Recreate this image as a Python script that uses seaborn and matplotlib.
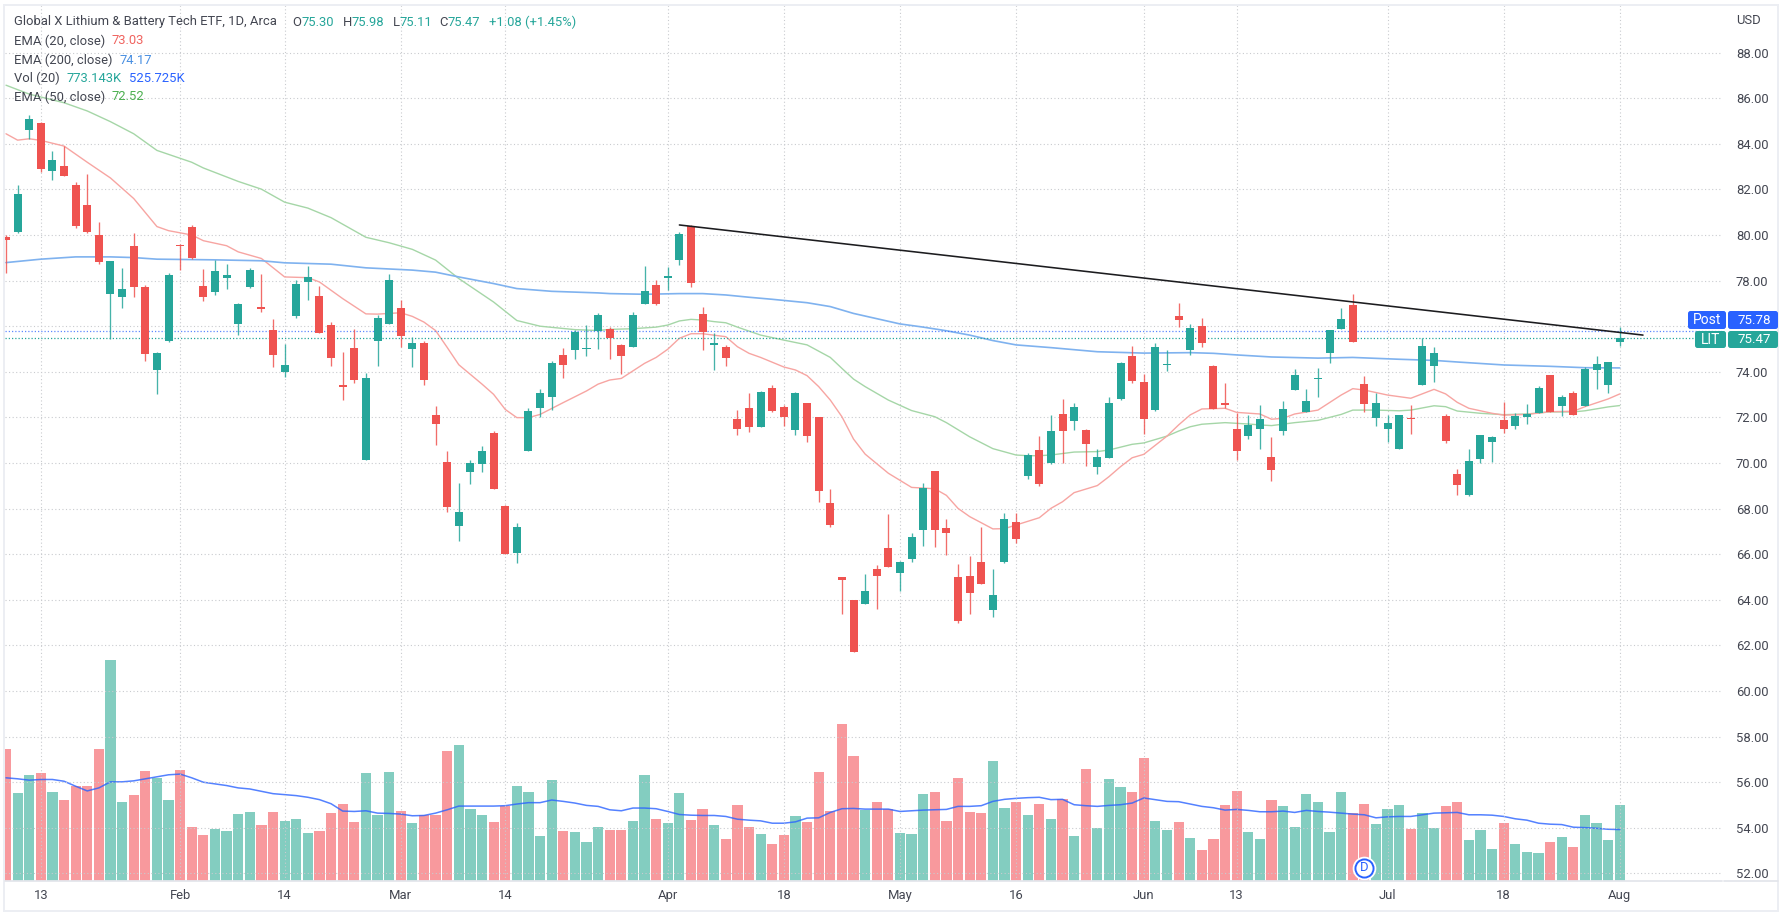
import matplotlib
matplotlib.use("Agg")
import matplotlib.pyplot as plt
from matplotlib.lines import Line2D
from matplotlib.patches import FancyBboxPatch, Rectangle
from matplotlib.transforms import IdentityTransform
import numpy as np
import pandas as pd
import seaborn as sns

# ---------- data ----------
opens = [79.9,80.15,84.6,84.91,82.79,83.01,82.19,81.31,80.0,77.41,77.26,79.51,77.74,74.07,75.34,79.57,80.34,77.78,77.5,78.13,
         76.1,77.71,76.85,75.84,74.01,76.43,77.94,77.34,76.07,73.41,75.06,70.14,75.37,76.1,76.81,74.99,75.25,72.09,70.04,67.25,
         69.62,69.95,71.3,68.1,66.05,70.54,72.43,72.9,74.75,74.94,74.99,75.81,75.86,75.19,75.1,76.99,77.79,78.1,78.92,80.39,
         76.52,75.16,75.09,71.94,72.43,71.59,73.3,72.44,71.45,72.63,72.0,68.23,64.99,63.99,63.82,65.34,66.26,65.16,65.79,67.05,
         69.63,67.16,64.99,65.04,65.67,63.57,65.64,67.4,69.44,70.56,69.99,72.13,71.83,71.43,69.84,70.23,72.79,74.69,73.54,72.31,
         74.3,76.45,74.96,76.01,74.27,72.62,71.51,71.2,71.49,70.25,71.39,73.2,72.24,73.67,74.82,75.89,76.92,73.45,71.97,71.49,
         70.63,71.99,73.42,74.24,72.05,69.53,68.58,70.18,70.91,71.89,71.64,72.02,72.21,73.87,72.5,73.06,72.5,74.08,73.42,75.3]
highs = [80.0,82.2,85.25,84.96,83.68,83.9,82.32,82.69,80.59,78.84,78.56,80.1,77.82,74.85,78.34,79.6,80.44,78.51,78.9,78.75,
         77.0,78.56,78.31,76.32,75.22,78.04,78.65,77.76,76.18,74.87,75.88,73.94,76.47,78.31,77.13,75.51,75.34,72.49,70.52,69.12,
         70.13,70.76,71.4,68.15,67.38,72.4,73.26,74.49,75.04,75.84,76.07,76.56,75.98,75.22,76.62,78.65,78.01,78.61,80.12,80.44,
         76.83,75.72,75.16,72.32,73.06,73.14,73.41,72.53,73.1,72.63,72.03,68.86,65.02,64.0,65.15,65.53,67.75,65.7,66.94,69.11,
         69.67,67.56,65.57,65.92,67.21,65.34,67.79,67.79,70.45,71.18,72.09,72.82,72.65,71.49,70.6,72.88,74.42,75.13,73.89,75.28,
         74.96,77.02,76.1,76.35,74.28,73.51,72.18,72.1,72.53,71.13,72.72,74.11,73.25,74.15,75.82,76.78,77.4,73.83,73.06,72.12,
         72.12,72.54,75.47,75.09,72.13,69.72,70.6,71.21,71.18,72.67,72.18,72.59,73.36,73.88,72.97,73.14,74.2,74.71,74.43,75.98]
lows = [78.35,80.07,84.2,82.75,82.4,82.57,80.32,80.07,78.72,75.44,76.82,77.28,74.49,73.04,75.3,78.46,78.93,77.1,77.35,77.63,
        75.62,77.69,76.62,74.19,73.79,76.35,77.16,75.69,74.25,72.75,73.53,70.12,74.24,76.08,75.1,74.19,73.44,70.81,67.83,66.58,
        69.08,69.62,68.84,66.03,65.6,70.51,72.03,72.31,73.75,74.54,74.69,75.0,74.58,73.92,75.08,76.97,76.93,77.59,78.67,77.7,
        74.96,74.08,74.27,71.24,71.37,71.57,72.25,71.62,71.24,70.91,68.3,67.18,63.38,61.73,63.8,63.6,65.45,64.4,65.67,66.37,
        66.33,65.96,63.0,63.38,64.68,63.23,65.62,66.51,69.31,68.99,69.97,69.99,71.43,69.87,69.5,70.21,72.77,73.51,71.27,72.29,
        74.03,75.98,74.72,75.1,72.35,72.4,70.13,71.05,70.61,69.21,71.24,73.18,72.22,72.88,74.37,75.87,75.31,72.25,71.62,70.93,
        70.61,71.29,73.4,73.55,70.86,68.58,68.56,70.01,70.03,71.33,71.48,71.73,72.19,72.25,72.06,72.11,72.48,73.26,73.08,75.11]
closes = [79.8,81.79,85.1,82.9,83.29,82.6,80.41,80.12,78.82,78.84,77.63,77.71,74.79,74.82,78.26,79.5,78.97,77.26,78.41,78.26,
          76.97,78.46,76.76,74.74,74.32,77.87,78.16,75.71,74.59,73.34,73.62,73.75,76.38,78.01,75.57,75.25,73.62,71.72,68.08,67.86,
          70.0,70.52,68.84,66.03,67.19,72.29,73.06,74.37,74.31,75.74,75.04,76.51,75.5,74.68,76.49,77.54,76.99,78.22,80.06,77.91,
          75.73,75.28,74.62,71.49,71.59,73.11,72.27,72.02,73.07,71.2,68.79,67.3,64.88,61.73,64.37,65.06,65.45,65.67,66.74,68.92,
          67.06,66.94,63.07,64.3,64.68,64.22,67.54,66.67,70.35,69.06,71.42,71.39,72.44,70.85,70.26,72.62,74.37,73.6,71.92,75.09,
          74.36,76.27,75.91,75.25,72.35,72.54,70.53,71.67,71.94,69.71,72.38,73.87,72.7,73.73,75.82,76.3,75.31,72.6,72.62,71.74,
          72.09,71.92,75.13,74.84,70.96,69.02,70.1,71.21,71.13,71.48,72.05,72.15,73.3,72.25,72.91,72.11,74.12,74.36,74.42,75.47]
volumes_k = [1354,897,1079,1100,911,832,969,976,1354,2261,807,876,1124,1055,832,1137,557,467,536,512,
             684,704,570,704,615,636,491,512,694,783,605,1100,670,1110,718,591,670,670,1330,1395,
             739,670,605,763,976,911,457,1034,512,502,399,557,522,522,615,1079,636,591,897,625,
             739,570,433,773,557,481,378,467,660,601,1113,718,1605,1275,728,807,739,491,481,886,
             911,615,1058,704,694,1227,749,807,670,783,636,842,457,1148,546,1048,966,911,1261,615,
             522,601,443,320,433,773,921,502,433,832,763,557,886,807,502,911,694,783,581,739,
             773,536,694,546,763,807,419,522,330,591,378,295,285,399,454,344,670,591,419,773]
vol_ma_k = [1055,1045,1031,1038,1038,1020,969,921,952,1014,1014,1024,1045,1065,1086,1093,1055,1010,993,976,
            952,941,917,893,883,873,856,832,790,715,711,718,694,691,684,667,670,694,728,766,
            766,766,766,770,787,801,801,828,814,797,773,763,728,718,746,746,739,711,680,673,
            670,670,660,632,622,615,591,591,605,643,646,701,739,742,735,735,735,711,718,725,
            728,732,763,763,770,814,835,845,852,856,832,835,780,770,763,773,780,797,849,832,
            814,811,787,763,749,725,732,722,708,708,715,701,722,711,704,694,684,677,646,656,
            660,660,677,694,698,701,677,677,673,660,636,622,591,581,577,550,546,539,529,526]

ema20_days = [0,1,2,3,5,7,9,11,13,14,16,17,19,20,22,24,26,27,29,31,32,34,35,36,37,38,39,41,42,43,44,45,46,48,50,51,
              52,53,55,56,57,58,59,60,62,63,64,65,67,68,69,70,71,72,73,74,76,78,80,81,82,83,85,86,87,89,90,91,92,94,95,96,97,98,100,
              101,102,103,105,106,108,109,110,111,113,115,116,117,119,121,123,124,125,126,128,129,131,133,135,136,138,139]
ema20 = [84.44,84.16,84.22,84.15,83.9,83.19,82.5,81.6,80.37,80.19,80.0,79.75,79.53,79.26,78.97,78.16,78.13,77.94,77.21,76.54,76.53,76.59,76.43,76.18,75.81,75.07,74.31,73.46,73.01,72.35,71.99,71.99,72.13,72.65,73.16,73.46,
         73.64,73.71,74.37,74.63,74.99,75.47,75.67,75.67,75.54,75.1,74.81,74.63,74.21,74.08,73.83,73.35,72.76,72.03,71.05,70.39,69.55,68.93,68.87,68.58,68.01,67.65,67.11,67.12,67.28,67.6,68.01,68.3,68.7,69.01,69.4,69.84,70.23,70.38,71.18,
         71.67,72.11,72.37,72.4,72.22,72.15,71.92,71.96,72.15,72.32,72.98,73.26,73.2,72.98,72.84,73.23,73.03,72.66,72.4,72.18,72.1,72.13,72.25,72.27,72.47,72.81,73.03]
ema50_days = [0,2,5,7,9,11,13,16,17,20,22,24,26,28,31,33,35,37,39,42,44,46,49,51,
              52,54,56,57,58,59,60,61,62,63,65,67,69,71,72,73,74,76,78,80,81,83,85,87,88,89,90,92,94,95,97,98,100,101,102,
              103,105,107,108,109,111,113,115,116,118,120,121,123,124,125,127,129,131,133,135,136,138,139]
ema50 = [86.57,86.18,85.8,85.44,84.97,84.44,83.71,83.19,82.94,82.35,82.01,81.44,81.18,80.76,79.9,79.66,79.37,78.9,78.09,77.06,76.25,76.0,75.85,75.81,
         75.86,75.89,75.96,76.05,76.23,76.3,76.27,76.2,76.15,75.96,75.61,75.39,75.18,74.63,74.15,73.68,73.35,72.76,72.3,72.03,71.77,71.15,70.63,70.35,70.32,70.32,70.35,70.48,70.5,70.57,70.82,70.88,71.18,71.4,71.59,
         71.7,71.77,71.71,71.67,71.64,71.77,71.87,72.13,72.32,72.32,72.29,72.32,72.51,72.47,72.28,72.18,72.12,72.15,72.24,72.24,72.29,72.46,72.52]
ema200_days = [0,3,6,9,11,13,18,22,24,28,31,35,37,39,42,44,47,51,52,55,58,60,62,64,66,69,71,73,75,77,79,81,83,85,87,90,94,98,102,
               104,106,109,113,116,120,123,125,129,133,136,139]
ema200 = [78.79,78.94,79.04,79.04,79.01,78.94,78.91,78.87,78.78,78.72,78.56,78.46,78.37,78.16,77.87,77.65,77.53,77.46,77.43,77.4,77.43,77.43,77.37,77.27,77.18,77.03,76.86,76.56,76.33,76.1,75.96,75.8,75.61,75.37,75.18,75.06,74.88,74.82,74.84,
          74.81,74.74,74.65,74.6,74.63,74.55,74.5,74.43,74.3,74.24,74.18,74.17]
trend_days = [58, 141]
trend_prices = [80.44, 75.61]
post_price = 75.78
last_price = 75.47
price_ticks = list(range(52, 90, 2))
hidden_tick = 76  # the price tags cover this label in the reference
date_ticks = [3, 15, 24, 34, 43, 57, 67, 77, 87, 98, 106, 119, 129, 139]
date_labels = ["13", "Feb", "14", "Mar", "14", "Apr", "18", "May", "16", "Jun", "13", "Jul", "18", "Aug"]
dividend_day = 117

# ---------- styles ----------
W, H = 1783, 915
UP, DOWN = "#26a69a", "#ef5350"
VOL_UP, VOL_DOWN = "#83cdc0", "#f8999d"
TXT = "#434651"
GRID = "#c9cbcf"
BLUE = "#2962ff"

sns.set_theme(style="white")
plt.rcParams["font.family"] = ["Roboto", "DejaVu Sans"]
plt.rcParams["font.size"] = 9.4

fig = plt.figure(figsize=(W / 100, H / 100), dpi=100, facecolor="white")
L, R, T, B = 5, 1722, 5, 881
rect = [L / W, 1 - B / H, (R - L) / W, (B - T) / H]
vol_ax = fig.add_axes(rect)
ax = fig.add_axes(rect)
ax.patch.set_visible(False)

days = np.arange(len(opens))
o, h, l, c = map(np.array, (opens, highs, lows, closes))
up = c >= o

# volume pane
df = pd.DataFrame({"day": days, "volume": volumes_k, "dir": np.where(up, "up", "down")})
sns.barplot(data=df, x="day", y="volume", hue="dir", palette={"up": VOL_UP, "down": VOL_DOWN},
            native_scale=True, dodge=False, width=0.88, saturation=1, errorbar=None,
            legend=False, linewidth=0, ax=vol_ax)
sns.lineplot(x=days, y=vol_ma_k, color=BLUE, linewidth=1.1, alpha=0.8, ax=vol_ax, zorder=4, errorbar=None)

# EMA lines
sns.lineplot(x=ema50_days, y=ema50, color="#a5d6a7", linewidth=1.0, ax=ax, zorder=2, errorbar=None)
sns.lineplot(x=ema20_days, y=ema20, color="#f7a5a2", linewidth=1.0, ax=ax, zorder=2, errorbar=None)
sns.lineplot(x=ema200_days, y=ema200, color="#7fb2ef", linewidth=1.2, ax=ax, zorder=2, errorbar=None)

# price lines
ax.axhline(post_price, color=BLUE, lw=0.9, ls=(0, (1, 1.6)), alpha=0.75, zorder=2)
ax.axhline(last_price, color=UP, lw=0.9, ls=(0, (1, 1.6)), zorder=2)

# candles
colors = np.where(up, UP, DOWN)
ax.vlines(days, l, h, colors=colors, linewidth=0.95, zorder=3, alpha=0.85)
body_h = np.maximum(np.abs(c - o), 0.06)
ax.bar(days, body_h, bottom=np.minimum(o, c), width=0.69, color=colors, linewidth=0, zorder=4)

# trend line
sns.lineplot(x=trend_days, y=trend_prices, color="#1c1c1f", linewidth=1.15, ax=ax, zorder=5, errorbar=None)

# scales
x_lo, x_hi = (L - 6) / 11.61, (R - 6) / 11.61
ax.set_xlim(x_lo, x_hi)
ax.set_ylim(80 - (B - 235) / 22.8, 80 + (235 - T) / 22.8)
vol_ax.set_ylim(0, 8957)
vol_ax.set_xlim(x_lo, x_hi)
vol_ax.set_xticks([]); vol_ax.set_yticks([])
vol_ax.set_xlabel(""); vol_ax.set_ylabel("")
ax.set_xlabel(""); ax.set_ylabel("")

ax.set_yticks(price_ticks)
ax.set_yticklabels(["" if p == hidden_tick else f"{p:.2f}" for p in price_ticks], color=TXT, fontsize=9.4)
ax.yaxis.tick_right()
ax.tick_params(axis="y", length=0, pad=10)
ax.set_xticks(date_ticks)
ax.set_xticklabels(date_labels, color=TXT, fontsize=9.4)
ax.tick_params(axis="x", length=0, pad=6)
ax.grid(True, color=GRID, lw=0.8, ls=(0, (1, 2.2)))
ax.set_axisbelow(True)
for a in (ax, vol_ax):
    for s in a.spines.values():
        s.set_visible(False)

# dividend marker
ax.scatter([dividend_day], [52.24], s=290, color="white", linewidth=0, zorder=6)
ax.scatter([dividend_day], [52.24], s=170, facecolor="white", edgecolor=BLUE, linewidth=1.4, zorder=7)
ax.text(dividend_day, 52.24, "D", color=BLUE, ha="center", va="center", fontsize=9.4, zorder=8)

# frame and axis rule
def px(x, y):
    return x, H - y

fig.add_artist(Rectangle(px(4, 911), 1774, 906, fill=False, edgecolor="#eceef3", linewidth=1.4,
                         transform=IdentityTransform()))
for x0, x1 in ((L, R), (1724, 1778)):
    fig.add_artist(Line2D([x0, x1], [H - 881, H - 881], color="#e4e6ec", lw=1.3, transform=IdentityTransform()))

# legend text
def run(x, y, s, color=TXT):
    fig.text(x / W, 1 - y / H, s, color=color, ha="left", va="center", fontsize=9.4)

run(14, 22, "Global X Lithium & Battery Tech ETF, 1D, Arca")
for xl, xv, letter, val in ((292, 301.5, "O", "75.30"), (343, 352, "H", "75.98"),
                            (393, 400, "L", "75.11"), (439, 448, "C", "75.47")):
    run(xl, 22, letter)
    run(xv, 22, val, UP)
run(489, 22, "+1.08 (+1.45%)", UP)
run(14, 41, "EMA (20, close)");  run(112, 41, "73.03", "#f0635f")
run(14, 60, "EMA (200, close)"); run(119, 60, "74.17", "#4a90e2")
run(14, 78, "Vol (20)");         run(67, 78, "773.143K", UP); run(129, 78, "525.725K", BLUE)
run(14, 97, "EMA (50, close)");  run(112, 97, "72.52", "#4caf50")
run(1736, 21, "USD")

# price labels
def tag(x0, x1, y0, y1, color):
    r = 2.5
    fig.add_artist(FancyBboxPatch((x0 + r, H - y1 + r), x1 - x0 - 2 * r, y1 - y0 - 2 * r,
                                  boxstyle=f"round,pad={r},rounding_size={r}", facecolor=color,
                                  edgecolor="none", transform=IdentityTransform()))

tag(1688, 1726, 311, 329, BLUE)
tag(1728, 1778, 311, 329, BLUE)
tag(1695, 1726, 331, 348, UP)
tag(1728, 1778, 331, 348, UP)
for xc, yc, s, fs in ((1707, 320, "Post", 10), (1754, 320, f"{post_price:.2f}", 9.6),
                      (1711, 339.5, "LIT", 10), (1754, 339.5, f"{last_price:.2f}", 9.6)):
    fig.text(xc / W, 1 - yc / H, s, color="white", ha="center", va="center", fontsize=fs, zorder=10)

fig.savefig("out.png", dpi=100, facecolor="white")
